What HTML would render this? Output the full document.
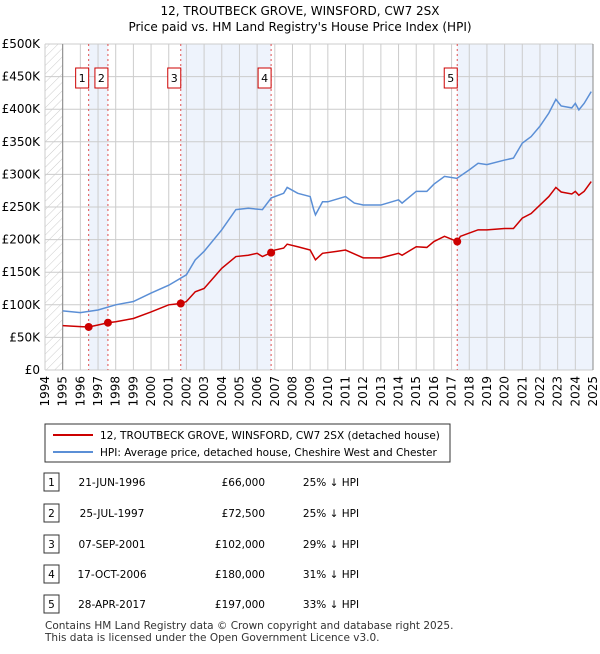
<!DOCTYPE html>
<html><head><meta charset="utf-8"><style>
body{margin:0;background:#fff;font-family:"DejaVu Sans","Liberation Sans",sans-serif;}
svg text{font-family:"DejaVu Sans","Liberation Sans",sans-serif;}
</style></head><body>
<svg id="c" width="600" height="650" xmlns="http://www.w3.org/2000/svg">
<defs><pattern id="hatch" width="6" height="6" patternUnits="userSpaceOnUse" patternTransform="rotate(45)"><line x1="0" y1="0" x2="0" y2="6" stroke="#ccc" stroke-width="1"/></pattern></defs>
<text x="300" y="15" text-anchor="middle" font-size="12">12, TROUTBECK GROVE, WINSFORD, CW7 2SX</text>
<text x="300" y="31" text-anchor="middle" font-size="12">Price paid vs. HM Land Registry's House Price Index (HPI)</text>
<g id="plot"></g>
<g>
<rect x="45" y="424" width="405" height="38" fill="#fff" stroke="#333"/>
<line x1="53" y1="435" x2="93" y2="435" stroke="#cc0000" stroke-width="2"/>
<text x="100" y="439" font-size="10.5">12, TROUTBECK GROVE, WINSFORD, CW7 2SX (detached house)</text>
<line x1="53" y1="452" x2="93" y2="452" stroke="#5b8fd6" stroke-width="2"/>
<text x="100" y="456" font-size="10.5">HPI: Average price, detached house, Cheshire West and Chester</text>
</g>
<g id="table" font-size="10.5"></g>
<text x="45" y="629" font-size="10.5" fill="#333">Contains HM Land Registry data © Crown copyright and database right 2025.</text>
<text x="45" y="641" font-size="10.5" fill="#333">This data is licensed under the Open Government Licence v3.0.</text>
</svg>
<script>
const hpiYears=[1995,1996,1997,1998,1999,2000,2001,2002,2002.5,2003,2004,2004.8,2005.5,2006.3,2006.8,2007.5,2007.7,2008.3,2009,2009.2,2009.3,2009.7,2010,2011,2011.5,2012,2013,2014,2014.2,2015,2015.6,2016,2016.6,2017.3,2018,2018.5,2019,2020,2020.5,2021,2021.5,2022,2022.5,2022.9,2023.2,2023.8,2024,2024.2,2024.5,2024.9];
const hpiValues=[90.6,88,92,100,105,118,130,146,169,182,215,246,248,246,264,271,280,271,266,246,238,258,258,266,256,253,253,261,256,274,274,285,297,294,307,317,315,322,325,348,358,374,394,415,405,402,409,399,409,427];
const ppYears=[1995,1996,1996.47,1997,1997.56,1998,1999,2000,2001,2001.68,2002,2002.5,2003,2004,2004.8,2005.5,2006,2006.3,2006.79,2007,2007.5,2007.7,2008.3,2009,2009.3,2009.7,2010.5,2011,2012,2013,2014,2014.2,2015,2015.6,2016,2016.6,2017.32,2017.5,2018,2018.5,2019,2020,2020.5,2021,2021.5,2022,2022.5,2022.9,2023.2,2023.8,2024,2024.2,2024.5,2024.9];
const ppValues=[68,66.5,66,69,72.5,74,79,89,100,102,105,120,125,156,174,176,179,174,180,184,187,193,189,184,169,179,182,184,172,172,179,176,189,188,197,205,197,205,210,215,215,217,217,233,240,253,266,280,273,270,274,268,274,289];
const saleLabels=["1","2","3","4","5"];
const saleYears=[1996.47,1997.56,2001.68,2006.79,2017.32];
const saleValues=[66,72.5,102,180,197];
const saleDates=["21-JUN-1996","25-JUL-1997","07-SEP-2001","17-OCT-2006","28-APR-2017"];
const salePrices=["£66,000","£72,500","£102,000","£180,000","£197,000"];
const saleHpi=["25% ↓ HPI","25% ↓ HPI","29% ↓ HPI","31% ↓ HPI","33% ↓ HPI"];
const yTicks=[0,50,100,150,200,250,300,350,400,450,500];
const yTickLabels=["£0","£50K","£100K","£150K","£200K","£250K","£300K","£350K","£400K","£450K","£500K"];
const x0=45,x1=593,y0=370,y1=44,yr0=1994,yr1=2025;
const X=y=>x0+(y-yr0)/(yr1-yr0)*(x1-x0);
const Y=v=>y0-v/500*(y0-y1);
const NS="http://www.w3.org/2000/svg";
const plot=document.getElementById('plot');
function mk(t,a,p){const e=document.createElementNS(NS,t);for(const k in a)e.setAttribute(k,a[k]);(p||plot).appendChild(e);return e;}
let h=mk('rect',{x:x0,y:y1,width:X(1995)-x0,height:y0-y1,fill:'url(#hatch)'});


const bands=[[0,1],[2,3],[4,null]];
bands.forEach((b,i)=>{const a=X(saleYears[b[0]]),e=b[1]===null?x1:X(saleYears[b[1]]);
const r=mk('rect',{x:a,y:y1,width:e-a,height:y0-y1,fill:'#eef3fc'});

});
for(let yr=yr0;yr<=yr1;yr++){const l=mk('line',{x1:X(yr),x2:X(yr),y1:y1,y2:y0,stroke:'#ccc','stroke-width':1});


const t=mk('text',{x:0,y:0,'font-size':12,'text-anchor':'end',transform:`translate(${X(yr)+4},${y0+6}) rotate(-90)`});t.textContent=yr;

}
yTicks.forEach((v,i)=>{const l=mk('line',{x1:x0,x2:x1,y1:Y(v),y2:Y(v),stroke:'#ccc','stroke-width':1});


const t=mk('text',{x:40,y:Y(v)+4,'font-size':12,'text-anchor':'end'});t.textContent=yTickLabels[i];

});
mk('line',{x1:X(1995),x2:X(1995),y1:y1,y2:y0,stroke:'#888'});
mk('line',{x1:x1,x2:x1,y1:y1,y2:y0,stroke:'#888'});
saleYears.forEach((s,i)=>{const l=mk('line',{x1:X(s),x2:X(s),y1:y1,y2:y0,stroke:'#e05050','stroke-dasharray':'2,3'});


const g=mk('g',{});

mk('rect',{x:X(s)-13,y:68,width:13,height:20,fill:'#fff',stroke:'#cc0000'},g);
const t=mk('text',{x:X(s)-6.5,y:82,'font-size':11,'text-anchor':'middle'},g);t.textContent=saleLabels[i];});
const hp=mk('polyline',{points:hpiYears.map((y,i)=>X(y)+','+Y(hpiValues[i])).join(' '),fill:'none',stroke:'#5b8fd6','stroke-width':1.5});


const pp=mk('polyline',{points:ppYears.map((y,i)=>X(y)+','+Y(ppValues[i])).join(' '),fill:'none',stroke:'#cc0000','stroke-width':1.5});


saleYears.forEach((s,i)=>{const c=mk('circle',{cx:X(s),cy:Y(saleValues[i]),r:4,fill:'#cc0000'});

});
const tb=document.getElementById('table');
const rowY=[482,513,544,574,604];
saleLabels.forEach((l,i)=>{const g=mk('g',{},tb);

const y=rowY[i];
mk('rect',{x:44,y:y-9,width:15,height:18,fill:'#fff',stroke:'#333'},g);
let t=mk('text',{x:51.5,y:y+4,'text-anchor':'middle'},g);t.textContent=l;
t=mk('text',{x:112,y:y+4,'text-anchor':'middle'},g);t.textContent=saleDates[i];
t=mk('text',{x:265,y:y+4,'text-anchor':'end'},g);t.textContent=salePrices[i];
t=mk('text',{x:331,y:y+4,'text-anchor':'middle'},g);t.textContent=saleHpi[i];});
</script>
</body></html>
